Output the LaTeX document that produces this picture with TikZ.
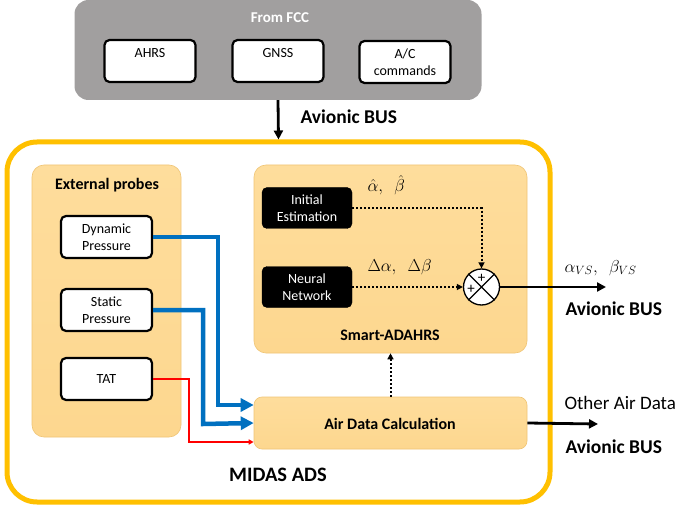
\documentclass[tikz,border=0pt]{standalone}
\usepackage{fontspec}
\setmainfont{Carlito}
\usetikzlibrary{arrows.meta,calc}
\definecolor{fccgray}{HTML}{A19F9F}
\definecolor{gold}{HTML}{FFC000}
\definecolor{lightor}{HTML}{FDD78F}
\definecolor{lightortop}{HTML}{FEDD9C}
\definecolor{orborder}{HTML}{F0C576}
\definecolor{blueline}{HTML}{0070C0}
\begin{document}
\begin{tikzpicture}[x=1pt,y=-1pt,
  whitebox/.style={draw, line width=2.2pt, rounded corners=5pt, fill=white, minimum width=91pt, minimum height=42pt, align=center, font=\fontsize{14}{17}\selectfont, inner sep=0pt},
  blackbox/.style={draw=black, fill=black, rounded corners=5pt, minimum width=90pt, minimum height=41pt, align=center, text=white, font=\fontsize{14}{17}\selectfont, inner sep=0pt},
  orbox/.style={draw=orborder, line width=0.6pt, rounded corners=12pt, top color=lightortop, bottom color=lightor, inner sep=0pt},
  boldlab/.style={font=\bfseries\fontsize{16}{18}\selectfont},
  buslab/.style={font=\bfseries\fontsize{19.5}{22}\selectfont, anchor=west},
  bluearr/.style={draw=blueline, line width=4.5pt, -{Triangle[length=13pt,width=13pt]}},
  redarr/.style={draw=red, line width=1.6pt, -{Triangle[length=5pt,width=5pt]}},
  blackarr/.style={draw=black, line width=2.8pt, -{Triangle[length=9pt,width=9pt]}},
  dotarr/.style={draw=black, line width=2pt, dash pattern=on 2pt off 2pt, -{Triangle[length=6pt,width=6pt]}},
  mathlab/.style={font=\fontsize{18.5}{20}\selectfont}
]
\useasboundingbox (0,0) rectangle (678,508);
% FCC
\node[fill=fccgray, rounded corners=14pt, minimum width=407pt, minimum height=100pt, inner sep=0pt] (fcc) at (278,50) {};
\node[text=white, boldlab, font=\bfseries\fontsize{15}{17}\selectfont] (fcct) at (280,18) {From FCC};
\node[whitebox] (ahrs) at (150,61) {AHRS\\~};
\node[whitebox] (gnss) at (278,61) {GNSS\\~};
\node[whitebox] (acc) at (405,62) {A/C\\commands};
% outer yellow
\node[draw=gold, line width=5pt, rounded corners=30pt, fill=white, minimum width=543pt, minimum height=360pt, inner sep=0pt] (midas) at (278.5,322) {};
\draw[blackarr] (fcc.south) -- (midas.north);
\node[buslab] (bus1) at (297,117) {Avionic BUS};
\node[font=\bfseries\fontsize{20.5}{22}\selectfont] (midast) at (278,475) {MIDAS ADS};
% external probes
\node[orbox, minimum width=149pt, minimum height=272pt] (ext) at (106.5,301) {};
\node[boldlab] (extt) at (107,185) {External probes};
\node[whitebox] (dyn) at (106.5,237) {Dynamic\\Pressure};
\node[whitebox] (stat) at (106.5,310) {Static\\Pressure};
\node[whitebox] (tat) at (106.5,379) {TAT};
% smart adahrs
\node[orbox, minimum width=273pt, minimum height=188pt] (smart) at (390.5,259) {};
\node[boldlab] (smartt) at (390,335) {Smart-ADAHRS};
\node[blackbox] (init) at (307,208) {Initial\\Estimation};
\node[blackbox] (nn) at (307,287) {Neural\\Network};
\node[draw, circle, fill=white, line width=1.3pt, minimum size=36pt, inner sep=0pt] (sum) at (481.5,287) {};
\draw[line width=1.1pt] (sum.north west) -- (sum.south east) (sum.north east) -- (sum.south west);
\node[font=\fontsize{15}{15}\selectfont] (plus1) at (481.5,278) {+};
\node[font=\fontsize{15}{15}\selectfont] (plus2) at (471,289) {+};
\draw[dotarr] (init.east) -| (sum.north);
\draw[dotarr] (nn.east) -- (sum.west);
\node[mathlab, anchor=west] (hatlab) at (364,185) {$\hat{\alpha},\ \ \hat{\beta}$};
\node[mathlab, anchor=west] (dellab) at (364,267) {$\Delta\alpha,\ \ \Delta\beta$};
% output
\coordinate (out1) at (606,287);
\draw[blackarr] (sum.east) -- (out1);
\node[mathlab, anchor=west] (vslab) at (561,268) {$\alpha_{VS},\ \ \beta_{VS}$};
\node[buslab] (bus2) at (562,309) {Avionic BUS};
% air data
\node[orbox, rounded corners=8pt, minimum width=273pt, minimum height=52pt] (adc) at (390.5,423) {};
\node[boldlab] (adct) at (390,424) {Air Data Calculation};
\draw[dotarr] (adc.north) -- (smart.south);
\coordinate (out2) at (598,424);
\draw[blackarr] (adc.east) -- (out2);
\node[font=\fontsize{19}{20}\selectfont, anchor=west] (oad) at (561,403) {Other Air Data};
\node[buslab] (bus3) at (562,447) {Avionic BUS};
% probe connections
\draw[bluearr] (dyn.east) -- (218,237) -- (218,405) -- (adc.west |- 0,405);
\draw[bluearr] (stat.east) -- (203,310) -- (203,424) -- (adc.west);
\draw[redarr] (tat.east) -- (189,379) -- (189,442) -- (adc.west |- 0,442);
\end{tikzpicture}
\end{document}
